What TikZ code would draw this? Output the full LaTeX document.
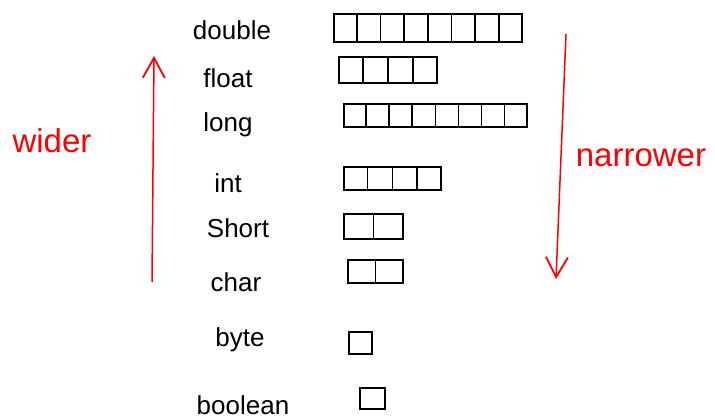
\documentclass[tikz,border=0pt]{standalone}
\usepackage{fontspec}
\setmainfont{Liberation Sans}
\usetikzlibrary{arrows.meta,calc}
\begin{document}
\begin{tikzpicture}[x=1pt,y=-1pt,
  lbl/.style={font=\fontsize{26}{28}\selectfont, text=black, inner sep=0pt},
  redlbl/.style={font=\fontsize{33}{35}\selectfont, text=red, inner sep=0pt},
  cellbox/.style={draw=black, line width=1.6pt, inner sep=0pt, anchor=north west},
  bigarrow/.style={draw=red, line width=1.5pt, -{Straight Barb[length=20pt,width=22pt,line width=1.8pt]}}]
\useasboundingbox (0,0) rectangle (715,419);
% labels
\node[lbl] (ldouble) at (232,30) {double};
\node[lbl] (lfloat) at (228,78) {float};
\node[lbl] (llong) at (228,125) {long};
\node[lbl] (lint) at (228,183) {int};
\node[lbl] (lshort) at (238,228) {Short};
\node[lbl] (lchar) at (236,282) {char};
\node[lbl] (lbyte) at (240,340) {byte};
\node[lbl] (lboolean) at (243,405) {boolean};
% boxes: name, x, y, width, height, cells
\foreach \nm/\x/\y/\w/\h/\n in {bdouble/333/13/188/28/8, bfloat/338/56/98/26/4, blong/343/103/183/23/8, bint/343/166/97/23/4, bshort/343/213/59/25/2, bchar/347/259/55/23/2, bbyte/348/331/23/22/1, bboolean/359/387/25/21/1}{
  \node[cellbox, minimum width=\w pt, minimum height=\h pt] (\nm) at (\x,\y) {};
  \ifnum\n>1
    \foreach \k in {2,...,\n}{
      \draw[line width=1.6pt] ($(\nm.north west)!{(\k-1)/\n}!(\nm.north east)$) -- ($(\nm.south west)!{(\k-1)/\n}!(\nm.south east)$);
    }
  \fi
}
% arrows
\coordinate (wbot) at (152,282);
\coordinate (wtop) at (154,56);
\coordinate (ntop) at (566,34);
\coordinate (nbot) at (556,279);
\draw[bigarrow] (wbot) -- (wtop);
\draw[bigarrow] (ntop) -- (nbot);
\node[redlbl] (wider) at (52,141) {wider};
\node[redlbl] (narrower) at (641,158) {narrower};
\end{tikzpicture}
\end{document}
